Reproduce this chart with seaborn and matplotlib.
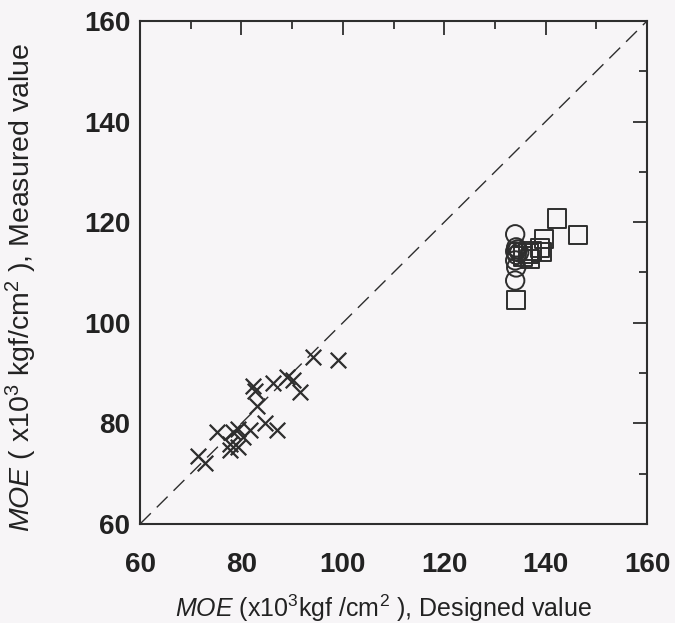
import matplotlib
matplotlib.use("Agg")
import matplotlib.pyplot as plt
from matplotlib.ticker import MultipleLocator
import seaborn as sns
import pandas as pd

# Designed vs measured modulus of elasticity (x10^3 kgf/cm^2)
cross_designed = [71.5, 72.8, 75.2, 77.8, 77.8, 78.4, 79.4, 79.3, 80.3, 81.7, 83.0,
                  82.3, 82.6, 84.7, 87.0, 86.3, 88.9, 90.2, 91.6, 94.2, 99.1]
cross_measured = [73.5, 72.2, 78.3, 76.0, 74.7, 78.3, 75.4, 78.9, 77.2, 78.7, 83.5,
                  87.4, 86.4, 80.0, 78.7, 88.0, 89.3, 88.6, 86.3, 93.3, 92.6]

circle_designed = [134.0, 134.2, 134.5, 134.0, 134.8, 134.3, 134.0, 134.2, 134.0]
circle_measured = [117.6, 115.0, 114.6, 114.2, 114.0, 113.5, 112.4, 111.0, 108.4]

square_designed = [142.3, 146.4, 139.7, 138.9, 139.2, 137.2, 136.6, 136.9, 135.6, 134.1]
square_measured = [120.7, 117.4, 116.6, 114.9, 114.1, 114.3, 113.8, 112.7, 113.2, 104.5]

x_ticks = [60, 80, 100, 120, 140, 160]
y_ticks = [60, 80, 100, 120, 140, 160]

sns.set_theme(style="white")
plt.rcParams["font.family"] = ["Liberation Sans", "DejaVu Sans"]
plt.rcParams["mathtext.fontset"] = "custom"
plt.rcParams["mathtext.rm"] = "Liberation Sans"
plt.rcParams["mathtext.it"] = "Liberation Sans:italic"

ink = "#2e2e2e"
bg = "#f7f5f7"

fig = plt.figure(figsize=(6.75, 6.23), dpi=100, facecolor=bg)
ax = fig.add_axes([140 / 675, 1 - 524 / 623, 507 / 675, 503 / 623], facecolor=bg)

# 1:1 reference line
ax.plot([60, 160], [60, 160], color=ink, lw=1.0, dashes=(11, 6), zorder=1)

df_x = pd.DataFrame({"designed": cross_designed, "measured": cross_measured})
df_o = pd.DataFrame({"designed": circle_designed, "measured": circle_measured})
df_s = pd.DataFrame({"designed": square_designed, "measured": square_measured})

sns.scatterplot(data=df_x, x="designed", y="measured", ax=ax, marker="x",
                s=125, color=ink, linewidth=1.6, zorder=3)
sns.scatterplot(data=df_o, x="designed", y="measured", ax=ax, marker="o",
                s=175, color="none", edgecolor=ink, linewidth=1.4, zorder=3)
sns.scatterplot(data=df_s, x="designed", y="measured", ax=ax, marker="s",
                s=175, color="none", edgecolor=ink, linewidth=1.4, zorder=3)

ax.set_xlim(60, 160)
ax.set_ylim(60, 160)
ax.set_xticks(x_ticks)
ax.set_yticks(y_ticks)
ax.set_xticklabels([str(t) for t in x_ticks])
ax.set_yticklabels([str(t) for t in y_ticks])
ax.xaxis.set_minor_locator(MultipleLocator(10))
ax.yaxis.set_minor_locator(MultipleLocator(10))

ax.tick_params(which="both", direction="in", top=True, right=True,
               color=ink, width=1.3)
ax.tick_params(which="major", length=10)
ax.tick_params(which="minor", length=6)
ax.tick_params(axis="x", which="major", pad=20, labelsize=20, labelcolor="#222")
ax.tick_params(axis="y", which="major", pad=7, labelsize=20, labelcolor="#222")
for lab in ax.get_xticklabels() + ax.get_yticklabels():
    lab.set_fontweight("bold")

for sp in ax.spines.values():
    sp.set_color(ink)
    sp.set_linewidth(1.5)

ax.set_xlabel(r"$\mathit{MOE}$ (x10$^3$kgf /cm$^2$ ), Designed value",
              fontsize=18, color="#222")
ax.set_ylabel(r"$\mathit{MOE}$ ( x10$^3$ kgf/cm$^2$ ), Measured value",
              fontsize=20.5, color="#222")
ax.xaxis.set_label_coords(0.48, -0.137)
ax.yaxis.set_label_coords(-0.2, 0.47)

fig.savefig("out.png", dpi=100, facecolor=bg)
